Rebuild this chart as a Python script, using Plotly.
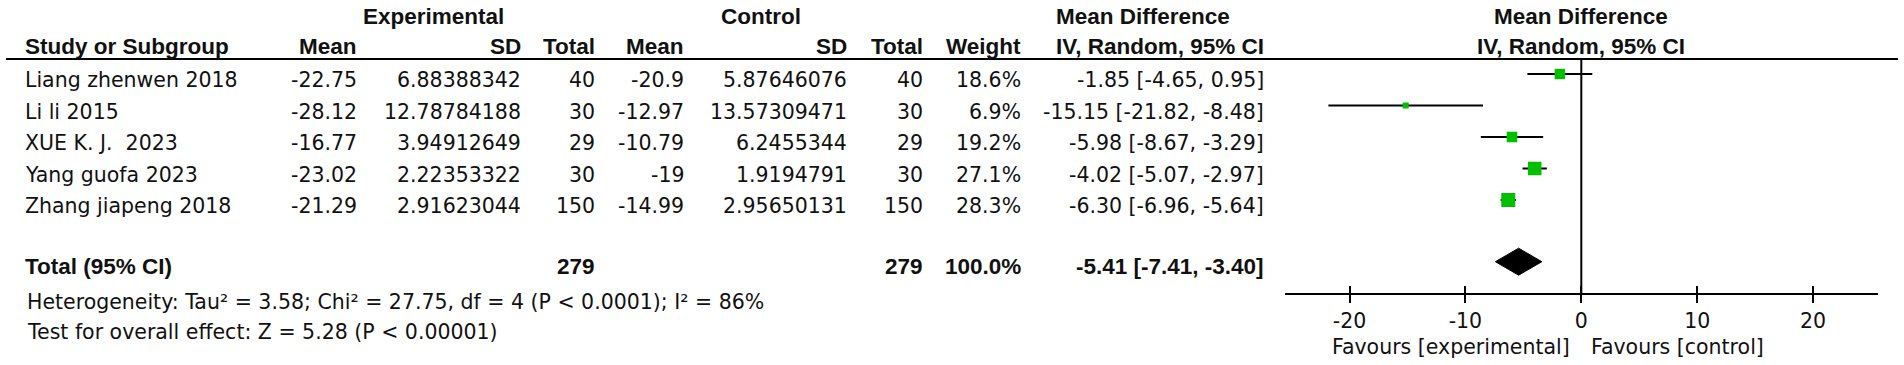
import plotly.graph_objects as go

# ---------------- data ----------------
studies = ["Liang zhenwen 2018", "Li li 2015", "XUE K. J.\u00a0 2023", "Yang guofa 2023", "Zhang jiapeng 2018"]
exp_mean = [-22.75, -28.12, -16.77, -23.02, -21.29]
exp_sd = [6.88388342, 12.78784188, 3.94912649, 2.22353322, 2.91623044]
exp_n = [40, 30, 29, 30, 150]
ctrl_mean = [-20.9, -12.97, -10.79, -19, -14.99]
ctrl_sd = [5.87646076, 13.57309471, 6.2455344, 1.9194791, 2.95650131]
ctrl_n = [40, 30, 29, 30, 150]
weight = [18.6, 6.9, 19.2, 27.1, 28.3]
md = [-1.85, -15.15, -5.98, -4.02, -6.30]
ci_lo = [-4.65, -21.82, -8.67, -5.07, -6.96]
ci_hi = [0.95, -8.48, -3.29, -2.97, -5.64]

total_exp_n = 279
total_ctrl_n = 279
total_weight = 100.0
total_md = -5.41
total_lo = -7.41
total_hi = -3.40

heterogeneity = "Heterogeneity: Tau² = 3.58; Chi² = 27.75, df = 4 (P &lt; 0.0001); I² = 86%"
overall = "Test for overall effect: Z = 5.28 (P &lt; 0.00001)"

tick_vals = [-20, -10, 0, 10, 20]
tick_text = ["-20", "-10", "0", "10", "20"]
favours_left = "Favours [experimental]"
favours_right = "Favours [control]"

# ---------------- layout constants (pixels) ----------------
W, H = 1904, 365
REG = "DejaVu Sans"
BOLD = "Liberation Sans, Arial"
REG_SIZE = 20.5
BOLD_SIZE = 22.5
TXT = "#111111"

AX_L, AX_R = 1285.3, 1878.0
ZERO_PX, PX_PER_UNIT = 1581.3, 11.59
AXIS_Y = 294.3
HEAD_LINE_Y = 59

ROW_TEXT_Y0, ROW_MARK_Y0, ROW_STEP = 80, 74, 31.5
TOTAL_TEXT_Y, TOTAL_MARK_Y = 266.7, 261.7

c_study = 25
c_exp_mean, c_exp_sd, c_exp_n = 356.7, 521, 595.3
c_ctrl_mean, c_ctrl_sd, c_ctrl_n = 684.3, 846.7, 922.7
c_weight, c_md = 1021, 1263.7

fig = go.Figure()

n = len(studies)
text_y = [ROW_TEXT_Y0 + ROW_STEP * i for i in range(n)]
mark_y = [ROW_MARK_Y0 + ROW_STEP * i for i in range(n)]

# CI lines
for i in range(n):
    fig.add_trace(go.Scatter(x=[ci_lo[i], ci_hi[i]], y=[mark_y[i], mark_y[i]], mode="lines",
                             line=dict(color="black", width=2), hoverinfo="skip", showlegend=False))
# pooled diamond
dh = 13.5
fig.add_trace(go.Scatter(x=[total_lo, total_md, total_hi, total_md, total_lo],
                         y=[TOTAL_MARK_Y, TOTAL_MARK_Y - dh, TOTAL_MARK_Y, TOTAL_MARK_Y + dh, TOTAL_MARK_Y],
                         mode="lines", fill="toself", fillcolor="black", line=dict(color="black", width=1),
                         hoverinfo="skip", showlegend=False))
# weight squares
fig.add_trace(go.Scatter(x=md, y=mark_y, mode="markers",
                         marker=dict(symbol="square", color="#00c000", opacity=1,
                                     size=[3.5 + 0.37 * w for w in weight], line=dict(width=0)),
                         hoverinfo="skip", showlegend=False))
# dummy trace for overlay tick axis
fig.add_trace(go.Scatter(x=[None], y=[None], xaxis="x2", yaxis="y", showlegend=False, hoverinfo="skip"))

# line of no effect
fig.add_shape(type="line", xref="x", yref="y", x0=0, x1=0, y0=HEAD_LINE_Y, y1=AXIS_Y,
              line=dict(color="black", width=2), layer="below")
# header underline
fig.add_shape(type="line", xref="paper", yref="y", x0=6 / W, x1=1898 / W, y0=HEAD_LINE_Y, y1=HEAD_LINE_Y,
              line=dict(color="black", width=2))


def txt(s, x, y, anchor="left", bold=False, size=None):
    fig.add_annotation(text=("<b>%s</b>" % s) if bold else s, xref="paper", yref="y", x=x / W, y=y,
                       xanchor=anchor, yanchor="middle", showarrow=False, borderpad=0, borderwidth=0,
                       font=dict(family=BOLD if bold else REG,
                                 size=size or (BOLD_SIZE if bold else REG_SIZE), color=TXT))


# headers
H1, H2 = 16, 46.7
txt("Experimental", 433, H1, "center", True)
txt("Control", 761, H1, "center", True)
txt("Mean Difference", 1143, H1, "center", True)
txt("Mean Difference", 1580.5, H1, "center", True)
txt("Study or Subgroup", c_study, H2, "left", True)
txt("Mean", c_exp_mean, H2, "right", True)
txt("SD", c_exp_sd, H2, "right", True)
txt("Total", c_exp_n, H2, "right", True)
txt("Mean", c_ctrl_mean, H2, "right", True)
txt("SD", c_ctrl_sd, H2, "right", True)
txt("Total", c_ctrl_n, H2, "right", True)
txt("Weight", c_weight, H2, "right", True)
txt("IV, Random, 95% CI", c_md, H2, "right", True)
txt("IV, Random, 95% CI", 1580.5, H2, "center", True)

# study rows
for i in range(n):
    y = text_y[i]
    txt(studies[i], c_study, y)
    txt(str(exp_mean[i]), c_exp_mean, y, "right")
    txt(str(exp_sd[i]), c_exp_sd, y, "right")
    txt(str(exp_n[i]), c_exp_n, y, "right")
    txt(str(ctrl_mean[i]), c_ctrl_mean, y, "right")
    txt(str(ctrl_sd[i]), c_ctrl_sd, y, "right")
    txt(str(ctrl_n[i]), c_ctrl_n, y, "right")
    txt("%.1f%%" % weight[i], c_weight, y, "right")
    txt("%.2f [%.2f, %.2f]" % (md[i], ci_lo[i], ci_hi[i]), c_md, y, "right")

# total row
txt("Total (95% CI)", c_study, TOTAL_TEXT_Y, "left", True)
txt(str(total_exp_n), c_exp_n, TOTAL_TEXT_Y, "right", True)
txt(str(total_ctrl_n), c_ctrl_n, TOTAL_TEXT_Y, "right", True)
txt("%.1f%%" % total_weight, c_weight, TOTAL_TEXT_Y, "right", True)
txt("%.2f [%.2f, %.2f]" % (total_md, total_lo, total_hi), c_md, TOTAL_TEXT_Y, "right", True)
txt(heterogeneity, 26.7, 301.7)
txt(overall, 26.7, 331.7)

# favours labels
txt(favours_left, 1569.7, 346.7, "right")
txt(favours_right, 1591.3, 346.7, "left")

x_range = [(AX_L - ZERO_PX) / PX_PER_UNIT, (AX_R - ZERO_PX) / PX_PER_UNIT]
x_domain = [AX_L / W, AX_R / W]
pos = 1 - AXIS_Y / H

fig.update_layout(
    width=W, height=H, margin=dict(l=0, r=0, t=0, b=0, pad=0),
    paper_bgcolor="white", plot_bgcolor="white", showlegend=False,
    xaxis=dict(domain=x_domain, range=x_range, anchor="free", position=pos,
               showline=True, linecolor="black", linewidth=2,
               ticks="outside", ticklen=8, tickwidth=2, tickcolor="black",
               tickvals=tick_vals, ticktext=tick_text,
               tickfont=dict(family=REG, size=REG_SIZE, color=TXT),
               showgrid=False, zeroline=False, fixedrange=True),
    xaxis2=dict(domain=x_domain, range=x_range, anchor="free", position=pos, overlaying="x",
                ticks="inside", ticklen=8, tickwidth=2, tickcolor="black", tickvals=tick_vals,
                showticklabels=False, showline=False, showgrid=False, zeroline=False, fixedrange=True),
    yaxis=dict(domain=[0, 1], range=[H, 0], visible=False, showgrid=False, zeroline=False, fixedrange=True),
)

fig.write_html("out.html",
               config={"displayModeBar": False, "staticPlot": True},
               post_script="document.body.style.margin='0';document.body.style.padding='0';"
                           "document.body.style.overflow='hidden';")
